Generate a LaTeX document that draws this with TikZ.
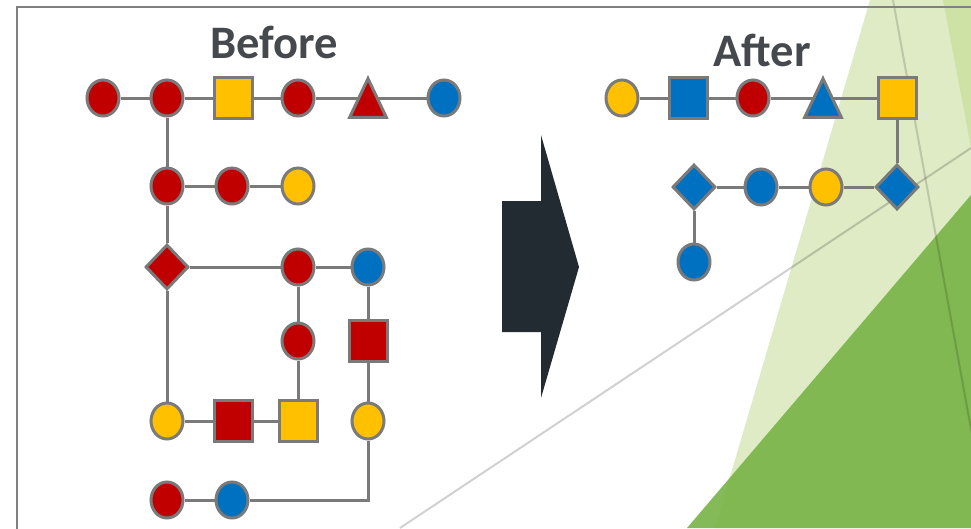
\documentclass[tikz,border=0pt]{standalone}
\usepackage{fontspec}
\setmainfont{Carlito}
\usetikzlibrary{shapes.geometric}
\usetikzlibrary{backgrounds}
\definecolor{sugarred}{RGB}{192,0,0}
\definecolor{sugaryellow}{RGB}{255,192,0}
\definecolor{sugarblue}{RGB}{0,112,192}
\definecolor{edgegray}{RGB}{122,122,122}
\definecolor{framegray}{RGB}{128,128,128}
\definecolor{titlegray}{RGB}{69,73,78}
\definecolor{arrowdark}{RGB}{34,43,49}
\definecolor{palegreen}{RGB}{222,235,197}
\definecolor{midgreen}{RGB}{207,226,166}
\definecolor{deepgreen}{RGB}{123,181,74}
\tikzset{
  sugar/.style={draw=edgegray,line width=0.06cm,inner sep=0pt},
  circ/.style={sugar,ellipse,minimum width=0.64cm,minimum height=0.72cm,fill=#1},
  sq/.style={sugar,rectangle,minimum width=0.76cm,minimum height=0.82cm,fill=#1},
  dia/.style={sugar,diamond,minimum width=0.86cm,minimum height=0.9cm,fill=#1},
  tribox/.style={rectangle,inner sep=0pt,minimum width=0.72cm,minimum height=0.76cm},
  trifill/.style={draw=edgegray,line width=0.06cm,fill=#1},
  link/.style={draw=edgegray,line width=0.06cm},
  title/.style={font=\bfseries\fontsize{26.5}{30}\selectfont,text=titlegray}
}
% triangle drawn inside a named box node
\newcommand{\drawtri}[2]{
  \filldraw[trifill=#2] (#1.south west) -- (#1.south east) -- (#1.north) -- cycle;
}

\begin{document}
\begin{tikzpicture}
  \useasboundingbox (0,0) rectangle (19.42,-10.56);

  \node[title] (before) at (5.48,-0.84) {Before};
  \node[title] (after) at (15.24,-1.0) {After};

  % before: top chain
  \node[circ=sugarred] (b1) at (2.06,-1.96) {};
  \node[circ=sugarred] (b2) at (3.34,-1.96) {};
  \node[sq=sugaryellow] (b3) at (4.66,-1.96) {};
  \node[circ=sugarred] (b4) at (5.96,-1.96) {};
  \node[tribox] (b5) at (7.36,-1.96) {};
  \drawtri{b5}{sugarred}
  \node[circ=sugarblue] (b6) at (8.88,-1.96) {};

  \node[circ=sugarred] (c1) at (3.34,-3.72) {};
  \node[circ=sugarred] (c2) at (4.64,-3.72) {};
  \node[circ=sugaryellow] (c3) at (5.96,-3.72) {};

  \node[dia=sugarred] (d1) at (3.34,-5.34) {};
  \node[circ=sugarred] (d2) at (5.96,-5.34) {};
  \node[circ=sugarblue] (d3) at (7.36,-5.34) {};

  \node[circ=sugarred] (e1) at (5.96,-6.82) {};
  \node[sq=sugarred] (e2) at (7.36,-6.82) {};

  \node[circ=sugaryellow] (f1) at (3.34,-8.42) {};
  \node[sq=sugarred] (f2) at (4.66,-8.42) {};
  \node[sq=sugaryellow] (f3) at (5.96,-8.42) {};
  \node[circ=sugaryellow] (f4) at (7.36,-8.42) {};

  \node[circ=sugarred] (g1) at (3.34,-10.0) {};
  \node[circ=sugarblue] (g2) at (4.64,-10.0) {};

  % after
  \node[circ=sugaryellow] (a1) at (12.44,-1.96) {};
  \node[sq=sugarblue] (a2) at (13.76,-1.96) {};
  \node[circ=sugarred] (a3) at (15.06,-1.96) {};
  \node[tribox] (a4) at (16.46,-1.96) {};
  \drawtri{a4}{sugarblue}
  \node[sq=sugaryellow] (a5) at (17.94,-1.96) {};

  \node[dia=sugarblue] (h1) at (13.88,-3.74) {};
  \node[circ=sugarblue] (h2) at (15.22,-3.74) {};
  \node[circ=sugaryellow] (h3) at (16.52,-3.74) {};
  \node[dia=sugarblue] (h4) at (17.94,-3.74) {};

  \node[circ=sugarblue] (k1) at (13.88,-5.24) {};

  % arrow between the two
  \fill[arrowdark] (10.04,-4.02) -- (10.82,-4.02) -- (10.82,-2.70) -- (11.58,-5.34)
    -- (10.82,-7.96) -- (10.82,-6.64) -- (10.04,-6.64) -- cycle;

  \begin{pgfonlayer}{background}
    % slide decoration
    \begin{scope}
      \clip (0,0) rectangle (19.42,-10.56);
      \fill[palegreen] (17.40,0) -- (19.42,0) -- (19.42,-10.56) -- (14.30,-10.56) -- cycle;
      \fill[midgreen] (18.86,0) -- (19.42,0) -- (19.42,-2.94) -- cycle;
      \fill[deepgreen,fill opacity=0.93] (13.74,-10.56) -- (19.42,-3.90) -- (19.42,-10.56) -- cycle;
      \draw[black,opacity=0.15,line width=0.04cm] (17.86,0) -- (19.78,-10.56);
      \draw[black,opacity=0.18,line width=0.04cm] (8.0,-10.56) -- (19.42,-2.96);
    \end{scope}
    \draw[framegray,line width=0.05cm] (0.34,-10.7) -- (0.34,-0.14) -- (19.6,-0.14);

    \draw[link] (b1) -- (b2) -- (b3) -- (b4) -- (b5.center) -- (b6);
    \draw[link] (b2) -- (c1) -- (d1) -- (f1);
    \draw[link] (c1) -- (c2) -- (c3);
    \draw[link] (d1) -- (d2) -- (d3);
    \draw[link] (d2) -- (e1) -- (f3);
    \draw[link] (d3) -- (e2) -- (f4);
    \draw[link] (f1) -- (f2) -- (f3);
    \draw[link] (f4) |- (g2);
    \draw[link] (g1) -- (g2);

    \draw[link] (a1) -- (a2) -- (a3) -- (a4.center) -- (a5);
    \draw[link] (a5) -- (h4) -- (h3) -- (h2) -- (h1) -- (k1);
  \end{pgfonlayer}
\end{tikzpicture}
\end{document}
